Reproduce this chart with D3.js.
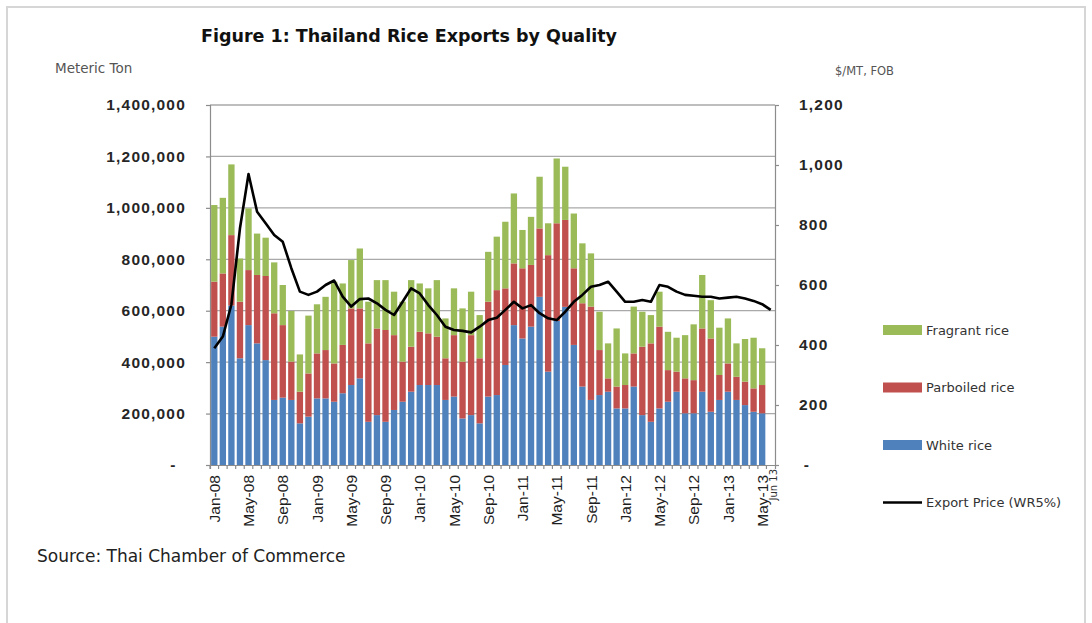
<!DOCTYPE html>
<html>
<head>
<meta charset="utf-8">
<script src="https://d3js.org/d3.v7.min.js"></script>
<style>
  body { margin: 0; background: #fff; }
  svg { display: block; font-family: "DejaVu Sans", sans-serif; }
</style>
</head>
<body>
<svg id="chart"></svg>
<script>
// categories, Jan-08 .. Jun-13 (Jun-13 has a price but no volume yet)
const months = [
  "Jan-08","Feb-08","Mar-08","Apr-08","May-08","Jun-08","Jul-08","Aug-08","Sep-08","Oct-08","Nov-08","Dec-08",
  "Jan-09","Feb-09","Mar-09","Apr-09","May-09","Jun-09","Jul-09","Aug-09","Sep-09","Oct-09","Nov-09","Dec-09",
  "Jan-10","Feb-10","Mar-10","Apr-10","May-10","Jun-10","Jul-10","Aug-10","Sep-10","Oct-10","Nov-10","Dec-10",
  "Jan-11","Feb-11","Mar-11","Apr-11","May-11","Jun-11","Jul-11","Aug-11","Sep-11","Oct-11","Nov-11","Dec-11",
  "Jan-12","Feb-12","Mar-12","Apr-12","May-12","Jun-12","Jul-12","Aug-12","Sep-12","Oct-12","Nov-12","Dec-12",
  "Jan-13","Feb-13","Mar-13","Apr-13","May-13","Jun-13"
];

// export volumes, thousand metric tons
const whiteRice = [
  499, 538, 620, 415, 544, 473, 408, 253, 262, 253, 162, 188,
  259, 259, 246, 279, 311, 337, 168, 194, 168, 214, 246, 285,
  311, 311, 311, 253, 266, 181, 194, 162, 266, 272, 389, 544,
  492, 538, 654, 363, 560, 615, 467, 305, 253, 272, 285, 220,
  220, 305, 194, 168, 220, 246, 285, 201, 201, 285, 207, 253,
  285, 253, 233, 207, 201
];
const parboiledRice = [
  214, 207, 274, 220, 214, 266, 327, 337, 282, 149, 123, 168,
  175, 188, 149, 188, 298, 272, 305, 337, 357, 291, 156, 175,
  207, 201, 188, 162, 239, 221, 311, 253, 369, 408, 298, 240,
  273, 240, 266, 453, 380, 338, 298, 324, 363, 175, 52, 85,
  91, 129, 266, 305, 318, 123, 78, 136, 129, 246, 285, 97,
  110, 90, 91, 91, 110
];
const fragrantRice = [
  298, 294, 275, 168, 240, 161, 149, 198, 156, 197, 145, 225,
  191, 207, 318, 239, 188, 233, 162, 188, 194, 169, 233, 259,
  188, 175, 220, 155, 182, 207, 169, 168, 194, 208, 259, 272,
  149, 187, 201, 124, 252, 207, 213, 233, 207, 149, 136, 226,
  123, 182, 136, 110, 136, 149, 132, 168, 217, 208, 149, 184,
  175, 130, 166, 197, 143
];

// export price WR5%, $/MT FOB
const exportPrice = [
  389, 428, 535, 789, 970, 844, 806, 767, 744, 656, 578, 567,
  578, 600, 615, 561, 528, 553, 555, 539, 517, 500, 544, 589,
  572, 533, 500, 461, 450, 447, 442, 461, 483, 491, 517, 544,
  522, 533, 506, 489, 483, 511, 544, 567, 594, 600, 611, 578,
  544, 544, 550, 544, 600, 594, 578, 567, 564, 561, 561, 555,
  558, 561, 555, 547, 536, 517
];

const volumeTicks = [0, 200, 400, 600, 800, 1000, 1200, 1400];
const priceTicks = [0, 200, 400, 600, 800, 1000, 1200];
const xLabels = months.filter((d, i) => i % 4 === 0);

const colors = { white: "#4f81bd", parboiled: "#c0504d", fragrant: "#9bbb59" };

const width = 1092, height = 623;
const plot = { left: 210, right: 775, top: 105, bottom: 465 };

const svg = d3.select("#chart").attr("width", width).attr("height", height);

svg.append("rect")
  .attr("width", width).attr("height", height)
  .attr("fill", "#fff");

// outer frame of the picture
svg.append("rect")
  .attr("x", 7).attr("y", 7)
  .attr("width", 1078).attr("height", 640)
  .attr("fill", "none")
  .attr("stroke", "#d6d6d6")
  .attr("stroke-width", 2);

const x = d3.scaleBand()
  .domain(months)
  .range([plot.left, plot.right])
  .paddingInner(0.26)
  .paddingOuter(0.13);

const y = d3.scaleLinear().domain([0, 1400]).range([plot.bottom, plot.top]);
const yPrice = d3.scaleLinear().domain([0, 1200]).range([plot.bottom, plot.top]);

// gridlines
svg.append("g")
  .selectAll("line")
  .data(volumeTicks.filter(d => d > 0))
  .join("line")
  .attr("x1", plot.left).attr("x2", plot.right)
  .attr("y1", d => y(d)).attr("y2", d => y(d))
  .attr("stroke", "#a9a9a9")
  .attr("stroke-width", 1.3);

// stacked bars
const rows = whiteRice.map((w, i) => ({
  month: months[i],
  white: w,
  parboiled: parboiledRice[i],
  fragrant: fragrantRice[i]
}));

const stack = d3.stack().keys(["white", "parboiled", "fragrant"]);

svg.append("g")
  .selectAll("g")
  .data(stack(rows))
  .join("g")
  .attr("fill", d => colors[d.key])
  .selectAll("rect")
  .data(d => d)
  .join("rect")
  .attr("x", d => x(d.data.month))
  .attr("width", x.bandwidth())
  .attr("y", d => y(d[1]))
  .attr("height", d => y(d[0]) - y(d[1]));

// axes
const leftAxis = svg.append("g")
  .attr("transform", `translate(${plot.left},0)`)
  .call(d3.axisLeft(y)
    .tickValues(volumeTicks)
    .tickSize(4)
    .tickPadding(20)
    .tickFormat(d => d === 0 ? "-" : d3.format(",")(d * 1000)));

leftAxis.selectAll("text")
  .style("font-size", "15.5px")
  .style("font-weight", "bold")
  .style("letter-spacing", "1.2px")
  .style("fill", "#262626")
  .filter(d => d === 0)
  .attr("dx", "-0.6em");

const rightAxis = svg.append("g")
  .attr("transform", `translate(${plot.right},0)`)
  .call(d3.axisRight(yPrice)
    .tickValues(priceTicks)
    .tickSize(4)
    .tickPadding(20)
    .tickFormat(d => d === 0 ? "-" : d3.format(",")(d)));

rightAxis.selectAll("text")
  .style("font-size", "15.5px")
  .style("font-weight", "bold")
  .style("letter-spacing", "1.2px")
  .style("fill", "#262626")
  .filter(d => d === 0)
  .attr("dx", "0.3em");

const bottomAxis = svg.append("g")
  .attr("transform", `translate(0,${plot.bottom})`)
  .call(d3.axisBottom(x)
    .tickSize(4)
    .tickFormat(d => xLabels.includes(d) ? d : ""));

// ticks sit between the categories
bottomAxis.selectAll(".tick line")
  .attr("transform", `translate(${-x.step() / 2},0)`);

bottomAxis.selectAll("text")
  .attr("transform", "rotate(-90)")
  .attr("x", -10)
  .attr("y", 0)
  .attr("dy", "0.36em")
  .style("text-anchor", "end")
  .style("font-size", "15.5px")
  .style("fill", "#1e1e1e");

svg.selectAll(".domain, .tick line")
  .attr("stroke", "#8c8c8c")
  .attr("stroke-width", 1.2);

// hand-written last month label
svg.append("text")
  .attr("transform", `translate(${x("Jun-13") + x.bandwidth() / 2 + 6},${plot.bottom + 4}) rotate(-90)`)
  .attr("text-anchor", "end")
  .style("font-size", "10px")
  .style("fill", "#333")
  .text("Jun 13");

// export price line
const line = d3.line()
  .x((d, i) => x(months[i]) + x.bandwidth() / 2)
  .y(d => yPrice(d));

svg.append("path")
  .datum(exportPrice)
  .attr("d", line)
  .attr("fill", "none")
  .attr("stroke", "#000")
  .attr("stroke-width", 2.6)
  .attr("stroke-linejoin", "round");

// titles
svg.append("text")
  .attr("x", 201).attr("y", 42)
  .style("font-size", "17.5px")
  .style("font-weight", "bold")
  .style("fill", "#111")
  .text("Figure 1: Thailand Rice Exports by Quality");

svg.append("text")
  .attr("x", 55).attr("y", 73)
  .style("font-size", "13.5px")
  .style("fill", "#555")
  .text("Meteric Ton");

svg.append("text")
  .attr("x", 835).attr("y", 75)
  .style("font-size", "11.5px")
  .style("fill", "#555")
  .text("$/MT, FOB");

svg.append("text")
  .attr("x", 37).attr("y", 562)
  .style("font-size", "17px")
  .style("fill", "#222")
  .text("Source: Thai Chamber of Commerce");

// legend
const legendItems = [
  { label: "Fragrant rice", color: colors.fragrant, type: "bar" },
  { label: "Parboiled rice", color: colors.parboiled, type: "bar" },
  { label: "White rice", color: colors.white, type: "bar" },
  { label: "Export Price (WR5%)", color: "#000", type: "line" }
];

const legend = svg.append("g").attr("transform", "translate(883,330)");

const item = legend.selectAll("g")
  .data(legendItems)
  .join("g")
  .attr("transform", (d, i) => `translate(0,${i * 57.5})`);

item.filter(d => d.type === "bar")
  .append("rect")
  .attr("y", -5).attr("width", 39).attr("height", 10)
  .attr("fill", d => d.color);

item.filter(d => d.type === "line")
  .append("line")
  .attr("x1", 0).attr("x2", 39)
  .attr("stroke", d => d.color)
  .attr("stroke-width", 2.6);

item.append("text")
  .attr("x", 43).attr("dy", "0.35em")
  .style("font-size", "13px")
  .style("fill", "#333")
  .text(d => d.label);
</script>
</body>
</html>
